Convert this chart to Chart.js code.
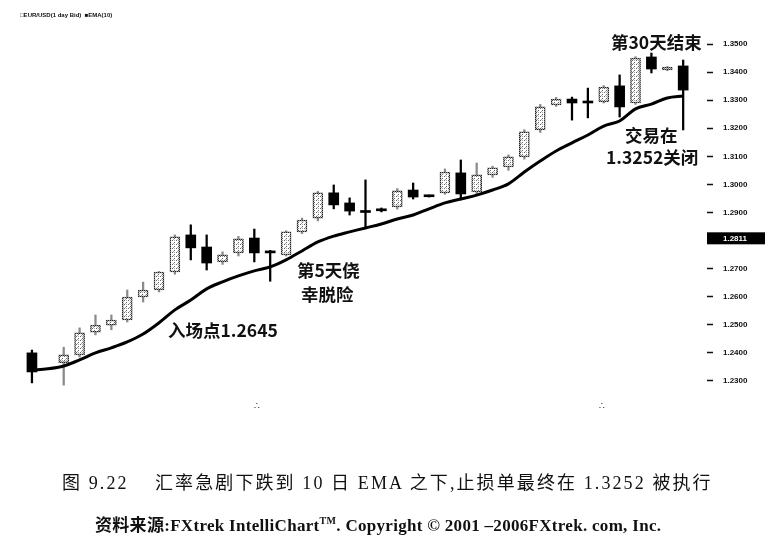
<!DOCTYPE html>
<html>
<head>
<meta charset="utf-8">
<script src="https://cdn.jsdelivr.net/npm/chart.js@4.4.0/dist/chart.umd.min.js"></script>
<style>
  html, body { margin: 0; padding: 0; background: #fff; }
  #wrap { position: relative; width: 778px; height: 541px; overflow: hidden; }
  #box { position: absolute; left: 0; top: 0; width: 778px; height: 541px; }
  .t { position: absolute; white-space: nowrap; color: #111; }
  .note { font-family: "Noto Sans CJK SC", "Liberation Sans", sans-serif; font-weight: bold; font-size: 17.5px; line-height: 22px; }
  .cap { font-family: "Liberation Serif", "Noto Sans CJK SC", serif; }
  .leg { font-family: "Liberation Sans", sans-serif; font-weight: bold; font-size: 6px; }
</style>
</head>
<body>
<div id="wrap">
  <div id="box"><canvas id="grafico"></canvas></div>

  <div class="t leg" style="left:20px;top:12px;">&#9633;EUR/USD(1 day Bid)&nbsp;&nbsp;&#9632;EMA(10)</div>

  <div class="t note" style="left:611px;top:31px;">第30天结束</div>
  <div class="t note" style="left:625px;top:124px;">交易在</div>
  <div class="t note" style="left:606px;top:146px;">1.3252关闭</div>
  <div class="t note" style="left:297px;top:259px;">第5天侥</div>
  <div class="t note" style="left:301px;top:283px;">幸脱险</div>
  <div class="t note" style="left:168px;top:319px;">入场点1.2645</div>

  <div class="t" style="left:254px;top:401px;font-size:9px;">&#8756;</div>
  <div class="t" style="left:599px;top:401px;font-size:9px;">&#8756;</div>

  <div class="t cap" style="left:62px;top:468px;font-size:18px;letter-spacing:2.1px;">图 9.22&nbsp;&nbsp;&nbsp; 汇率急剧下跌到 10 日 EMA 之下,止损单最终在 1.3252 被执行</div>
  <div class="t cap" style="left:95px;top:511px;font-size:17px;letter-spacing:0.3px;font-weight:bold;">资料来源:FXtrek IntelliChart<sup style="font-size:10px;">TM</sup>. Copyright &#169; 2001 &ndash;2006FXtrek. com, Inc.</div>
</div>

<script>
// candles (EUR/USD daily), one empty day after the first bar, one blank slot on the right
const dias = ["1", "2", "3", "4", "5", "6", "7", "8", "9", "10", "11", "12", "13", "14", "15",
  "16", "17", "18", "19", "20", "21", "22", "23", "24", "25", "26", "27", "28", "29", "30",
  "31", "32", "33", "34", "35", "36", "37", "38", "39", "40", "41", "42", ""];

const abertura = [1.2400, null, 1.2365, 1.2393, 1.2474, 1.2499, 1.2517, 1.2599, 1.2624, 1.2688,
  1.2820, 1.2777, 1.2724, 1.2756, 1.2809, 1.2763, 1.2749, 1.2831, 1.2880, 1.2970,
  1.2934, 1.2904, 1.2909, 1.2920, 1.2980, 1.2960, 1.2970, 1.3041, 1.2973, 1.3034,
  1.3062, 1.3098, 1.3194, 1.3283, 1.3304, 1.3292, 1.3294, 1.3351, 1.3290, 1.3454,
  1.3408, 1.3422, null];
const maxima = [1.2410, null, 1.2420, 1.2489, 1.2535, 1.2535, 1.2624, 1.2652, 1.2690, 1.2820,
  1.2856, 1.2820, 1.2760, 1.2815, 1.2841, 1.2765, 1.2835, 1.2880, 1.2975, 1.2998,
  1.2952, 1.3016, 1.2916, 1.2985, 1.3005, 1.2962, 1.3055, 1.3087, 1.3076, 1.3065,
  1.3105, 1.3195, 1.3285, 1.3310, 1.3311, 1.3343, 1.3352, 1.3390, 1.3455, 1.3468,
  1.3420, 1.3443, null];
const minima = [1.2293, null, 1.2285, 1.2385, 1.2464, 1.2482, 1.2510, 1.2581, 1.2617, 1.2680,
  1.2731, 1.2695, 1.2715, 1.2745, 1.2724, 1.2655, 1.2745, 1.2825, 1.2870, 1.2913,
  1.2891, 1.2848, 1.2902, 1.2912, 1.2948, 1.2955, 1.2965, 1.2945, 1.2965, 1.3025,
  1.3050, 1.3090, 1.3185, 1.3278, 1.3229, 1.3237, 1.3290, 1.3240, 1.3285, 1.3397,
  1.3405, 1.3194, null];
const fechamento = [1.2332, null, 1.2393, 1.2471, 1.2499, 1.2517, 1.2599, 1.2624, 1.2688, 1.2813,
  1.2774, 1.2720, 1.2749, 1.2806, 1.2756, 1.2756, 1.2831, 1.2873, 1.2970, 1.2927,
  1.2905, 1.2900, 1.2906, 1.2977, 1.2955, 1.2956, 1.3044, 1.2966, 1.3034, 1.3059,
  1.3098, 1.3187, 1.3276, 1.3304, 1.3290, 1.3290, 1.3347, 1.3276, 1.3450, 1.3411,
  1.3418, 1.3336, null];

const ema10 = [1.2339, 1.2343, 1.2353, 1.2375, 1.2400, 1.2418, 1.2439, 1.2467, 1.2507, 1.2553,
  1.2588, 1.2628, 1.2653, 1.2674, 1.2692, 1.2706, 1.2731, 1.2763, 1.2795, 1.2816,
  1.2831, 1.2845, 1.2859, 1.2877, 1.2891, 1.2913, 1.2934, 1.2948, 1.2962, 1.2980,
  1.3002, 1.3044, 1.3083, 1.3119, 1.3148, 1.3176, 1.3208, 1.3226, 1.3269, 1.3286,
  1.3308, 1.3315, null];

const precoAtual = 1.2808;
const precoAtualTexto = "1.2811";

function inicial() {
  const dash = document.getElementById("grafico");
  const g = dash.getContext("2d");

  // speckled fill for up candles, like the scanned print
  const pc = document.createElement("canvas");
  pc.width = 4; pc.height = 4;
  const pg = pc.getContext("2d");
  pg.fillStyle = "#fff"; pg.fillRect(0, 0, 4, 4);
  pg.fillStyle = "#666"; pg.fillRect(0, 0, 1, 1); pg.fillRect(2, 2, 1, 1);
  pg.fillStyle = "#aaa"; pg.fillRect(2, 0, 1, 1); pg.fillRect(1, 3, 1, 1);
  const pontilhado = g.createPattern(pc, "repeat");

  const bc = document.createElement("canvas");
  bc.width = 2; bc.height = 2;
  const bg = bc.getContext("2d");
  bg.fillStyle = "#222"; bg.fillRect(0, 0, 1, 1); bg.fillRect(1, 1, 1, 1);
  bg.fillStyle = "#999"; bg.fillRect(1, 0, 1, 1); bg.fillRect(0, 1, 1, 1);
  const borda = g.createPattern(bc, "repeat");

  const sobe = (i) => fechamento[i] != null && fechamento[i] > abertura[i];

  const corpos = abertura.map((o, i) => (o == null ? null : [o, fechamento[i]]));
  const pavios = minima.map((l, i) => (l == null ? null : [l, maxima[i]]));

  const marcaPreco = {
    id: "marcaPreco",
    afterDraw(chart) {
      const y = chart.scales.y.getPixelForValue(precoAtual);
      const c = chart.ctx;
      c.save();
      c.fillStyle = "#000";
      c.fillRect(707, y - 6, 58, 12);
      c.fillStyle = "#fff";
      c.font = "bold 8px 'Liberation Sans', sans-serif";
      c.textBaseline = "middle";
      c.fillText(precoAtualTexto, 723, y + 0.5);
      c.restore();
    },
  };

  new Chart(dash, {
    data: {
      labels: dias,
      datasets: [
        {
          type: "line",
          label: "EMA(10)",
          data: ema10,
          borderColor: "#000",
          borderWidth: 3,
          pointRadius: 0,
          tension: 0.35,
          order: 1,
        },
        {
          type: "bar",
          label: "EUR/USD",
          data: corpos,
          grouped: false,
          barThickness: 10,
          minBarLength: 2,
          borderSkipped: false,
          borderWidth: (ctx) => (sobe(ctx.dataIndex) ? 1.5 : 0),
          borderColor: (ctx) => (sobe(ctx.dataIndex) ? borda : "#000"),
          backgroundColor: (ctx) => (sobe(ctx.dataIndex) ? pontilhado : "#000"),
          order: 2,
        },
        {
          type: "bar",
          label: "wick",
          data: pavios,
          grouped: false,
          barThickness: 1.6,
          borderWidth: 0,
          backgroundColor: (ctx) => (sobe(ctx.dataIndex) ? "#8a8a8a" : "#000"),
          order: 3,
        },
      ],
    },
    options: {
      responsive: true,
      maintainAspectRatio: false,
      animation: false,
      layout: { padding: { top: 30, bottom: 132, left: 24, right: 0 } },
      plugins: {
        legend: { display: false },
        tooltip: { enabled: false },
      },
      scales: {
        x: {
          display: false,
          offset: true,
        },
        y: {
          position: "right",
          min: 1.22,
          max: 1.355,
          afterFit: (scale) => { scale.width = 71; },
          afterBuildTicks: (scale) => {
            scale.ticks = scale.ticks.filter((t) => t.value > 1.2250 && t.value < 1.3505);
          },
          border: { display: false },
          grid: {
            drawOnChartArea: false,
            drawTicks: true,
            tickLength: 6,
            tickWidth: 1.5,
            tickColor: "#111",
          },
          ticks: {
            stepSize: 0.01,
            padding: 10,
            color: "#111",
            font: { family: "'Liberation Sans', sans-serif", size: 8, weight: "bold" },
            callback: (v) => (Math.abs(v - 1.28) < 0.001 ? "" : Number(v).toFixed(4)),
          },
        },
      },
    },
    plugins: [marcaPreco],
  });
}

inicial();
</script>
</body>
</html>
